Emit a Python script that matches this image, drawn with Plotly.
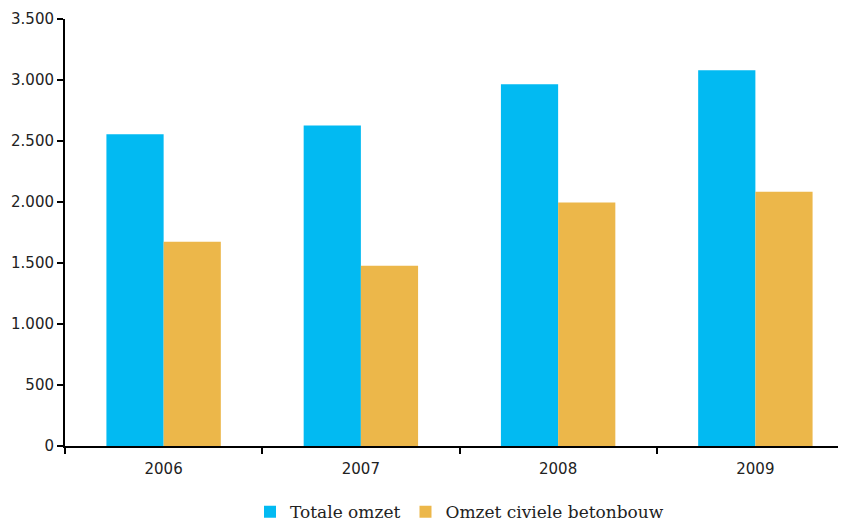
import plotly.graph_objects as go

years = ["2006", "2007", "2008", "2009"]
totale_omzet = [2555, 2628, 2965, 3080]
omzet_civiele = [1675, 1478, 1995, 2085]
series_names = ["Totale omzet", "Omzet civiele betonbouw"]
y_ticks = [0, 500, 1000, 1500, 2000, 2500, 3000, 3500]

fig = go.Figure()
fig.add_trace(go.Bar(x=years, y=totale_omzet, name=series_names[0],
                     marker=dict(color="#02BAF2", line=dict(width=0))))
fig.add_trace(go.Bar(x=years, y=omzet_civiele, name=series_names[1],
                     marker=dict(color="#ECB74A", line=dict(width=0))))

fig.update_layout(
    width=846, height=521,
    margin=dict(l=57, r=0, t=11, b=83, autoexpand=False),
    paper_bgcolor="white", plot_bgcolor="white",
    barmode="group", bargap=0.42, bargroupgap=0,
    separators=",.",
    showlegend=True,
    legend=dict(orientation="h", x=0.5, xanchor="center", y=-0.155, yanchor="middle",
                font=dict(family="DejaVu Serif", size=17, color="#222"),
                itemwidth=30, tracegroupgap=0),
    xaxis=dict(type="category", range=[-0.5, 3.5], showline=True, linecolor="black",
               linewidth=2, ticks="outside", tickson="boundaries", ticklen=6,
               tickwidth=2, tickcolor="black", showgrid=False, automargin=False,
               ticklabelstandoff=8,
               tickfont=dict(family="DejaVu Sans", size=15, color="#222")),
    yaxis=dict(range=[0, 3500], tickvals=y_ticks, tickformat=",d", showline=True,
               linecolor="black", linewidth=2, ticks="outside", ticklen=6,
               tickwidth=2, tickcolor="black", showgrid=False, zeroline=False,
               automargin=False,
               tickfont=dict(family="DejaVu Sans", size=15, color="#222")),
)

fig.write_html("out.html")
